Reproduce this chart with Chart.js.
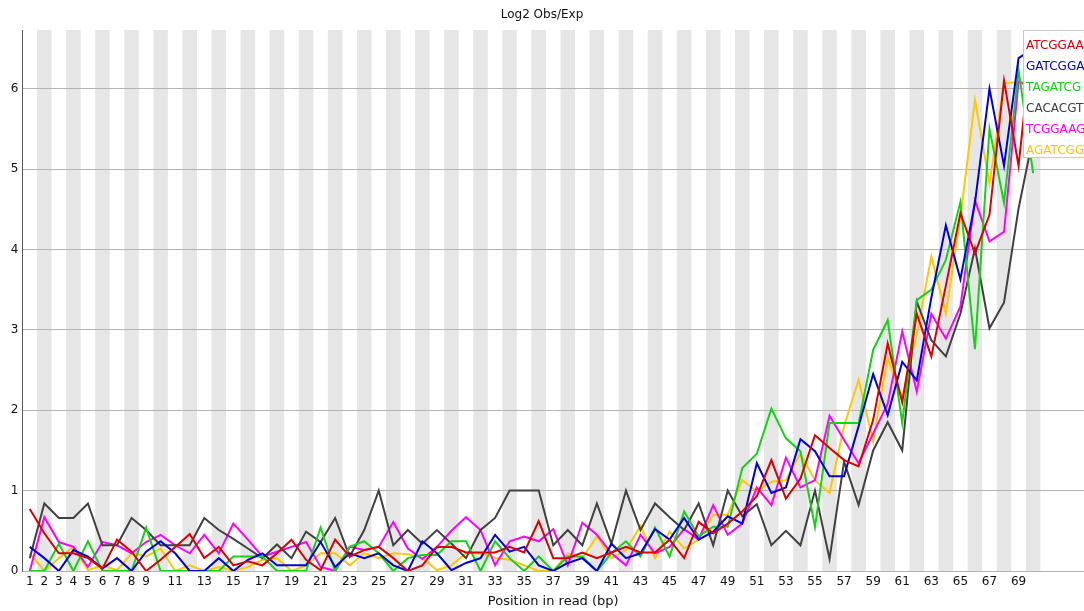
<!DOCTYPE html>
<html>
<head>
<meta charset="utf-8">
<title>Log2 Obs/Exp</title>
<script src="https://cdn.jsdelivr.net/npm/chart.js@4.4.1/dist/chart.umd.min.js"></script>
<style>
  html, body { margin: 0; padding: 0; background: #fff; }
  #wrap { width: 1084px; height: 611px; overflow: hidden; }
</style>
</head>
<body>
<div id="wrap"><canvas id="chart" width="1084" height="611"></canvas></div>
<script>
// Position in read (bp)
const positions = [
  1, 2, 3, 4, 5, 6, 7, 8, 9, 10, 11, 12, 13, 14, 15, 16, 17, 18, 19, 20,
  21, 22, 23, 24, 25, 26, 27, 28, 29, 30, 31, 32, 33, 34, 35, 36, 37, 38, 39, 40,
  41, 42, 43, 44, 45, 46, 47, 48, 49, 50, 51, 52, 53, 54, 55, 56, 57, 58, 59, 60,
  61, 62, 63, 64, 65, 66, 67, 68, 69, 70
];

const xTickLabels = [1, 2, 3, 4, 5, 6, 7, 8, 9, 11, 13, 15, 17, 19, 21, 23, 25, 27, 29, 31,
  33, 35, 37, 39, 41, 43, 45, 47, 49, 51, 53, 55, 57, 59, 61, 63, 65, 67, 69];
const yTickLabels = [0, 1, 2, 3, 4, 5, 6];

const kmerNames = ['ATCGGAA', 'GATCGGA', 'TAGATCG', 'CACACGT', 'TCGGAAG', 'AGATCGG'];

const atcggaa = [
  0.77, 0.47, 0.22, 0.22, 0.16, 0.03, 0.39, 0.24, 0, 0.14, 0.3, 0.46, 0.16, 0.3, 0.07, 0.12, 0.07, 0.22, 0.39, 0.14,
  0.01, 0.39, 0.18, 0.26, 0.3, 0.16, 0, 0.07, 0.3, 0.3, 0.23, 0.23, 0.23, 0.3, 0.23, 0.62, 0.16, 0.16, 0.23, 0.16,
  0.23, 0.3, 0.23, 0.23, 0.39, 0.16, 0.61, 0.47, 0.59, 0.74, 0.93, 1.38, 0.9, 1.15, 1.69, 1.53, 1.38, 1.3, 1.88, 2.83,
  2.1, 3.2, 2.67, 3.55, 4.45, 3.95, 4.43, 6.1, 5.04, 6.75
];
const gatcgga = [
  0.3, 0.16, 0, 0.26, 0.18, 0.03, 0.16, 0, 0.24, 0.37, 0.22, 0, 0, 0.16, 0, 0.14, 0.22, 0.07, 0.07, 0.07,
  0.36, 0.05, 0.22, 0.16, 0.22, 0.07, 0, 0.37, 0.22, 0.01, 0.1, 0.16, 0.45, 0.24, 0.3, 0.07, 0, 0.1, 0.16, 0,
  0.34, 0.16, 0.22, 0.52, 0.39, 0.66, 0.39, 0.49, 0.68, 0.59, 1.34, 0.97, 1.04, 1.64, 1.49, 1.18, 1.18, 1.8, 2.45, 1.94,
  2.6, 2.37, 3.4, 4.3, 3.63, 4.58, 6.0, 5.04, 6.38, 6.5
];
const tagatcg = [
  0, 0, 0.34, 0, 0.37, 0, 0, 0, 0.54, 0, 0, 0, 0, 0, 0.18, 0.18, 0.18, 0, 0, 0,
  0.54, 0, 0.3, 0.37, 0.22, 0, 0.16, 0.2, 0.2, 0.37, 0.37, 0, 0.37, 0.16, 0, 0.18, 0, 0.18, 0.18, 0,
  0.22, 0.37, 0.18, 0.54, 0.18, 0.74, 0.43, 0.55, 0.55, 1.28, 1.46, 2.02, 1.65, 1.49, 0.55, 1.84, 1.84, 1.84, 2.75, 3.12,
  1.84, 3.37, 3.5, 3.87, 4.59, 2.76, 5.5, 4.58, 6.23, 4.95
];
const cacacgt = [
  0.16, 0.84, 0.66, 0.66, 0.84, 0.32, 0.32, 0.66, 0.51, 0.32, 0.32, 0.32, 0.66, 0.51, 0.4, 0.28, 0.16, 0.33, 0.16, 0.49,
  0.36, 0.66, 0.18, 0.51, 1.0, 0.32, 0.51, 0.34, 0.51, 0.34, 0.16, 0.51, 0.66, 1.0, 1.0, 1.0, 0.32, 0.51, 0.32, 0.84,
  0.34, 1.0, 0.51, 0.84, 0.67, 0.51, 0.84, 0.32, 1.0, 0.68, 0.83, 0.32, 0.5, 0.32, 1.0, 0.15, 1.36, 0.82, 1.5, 1.85,
  1.5, 3.35, 2.87, 2.67, 3.2, 4.01, 3.02, 3.34, 4.51, 5.4
];
const tcggaag = [
  0, 0.67, 0.36, 0.3, 0.05, 0.36, 0.32, 0.22, 0.36, 0.45, 0.32, 0.22, 0.45, 0.22, 0.59, 0.39, 0.18, 0.24, 0.3, 0.36,
  0.05, 0, 0.3, 0.26, 0.3, 0.61, 0.28, 0.15, 0.3, 0.5, 0.67, 0.51, 0.07, 0.37, 0.43, 0.37, 0.52, 0.07, 0.6, 0.45,
  0.22, 0.07, 0.45, 0.22, 0.3, 0.52, 0.39, 0.82, 0.45, 0.59, 1.04, 0.82, 1.41, 1.04, 1.13, 1.93, 1.63, 1.34, 1.71, 2.08,
  2.98, 2.23, 3.2, 2.89, 3.29, 4.61, 4.1, 4.22, 6.09, 6.0
];
const agatcgg = [
  0.22, 0, 0.16, 0.3, 0.01, 0.07, 0.01, 0.22, 0.18, 0.28, 0, 0.07, 0, 0.05, 0, 0.05, 0.14, 0.16, 0, 0.07,
  0.22, 0.22, 0.07, 0.22, 0.16, 0.22, 0.21, 0.16, 0.01, 0.07, 0.22, 0.22, 0.16, 0.14, 0.07, 0, 0, 0.22, 0.16, 0.43,
  0.16, 0.26, 0.56, 0.16, 0.49, 0.28, 0.39, 0.7, 0.7, 1.13, 0.99, 1.11, 1.13, 1.46, 1.13, 0.97, 1.8, 2.38, 1.61, 2.65,
  2.15, 2.95, 3.91, 3.2, 4.4, 5.86, 4.82, 6.07, 6.08, 6.08
];

const kmerValues = [atcggaa, gatcgga, tagatcg, cacacgt, tcggaag, agatcgg];
const kmerColours = ['rgb(220,0,0)', 'rgb(0,0,220)', 'rgb(20,210,20)', 'rgb(64,64,64)', 'rgb(255,0,255)', 'rgb(255,200,0)'];

Chart.defaults.font.family = '"DejaVu Sans", sans-serif';
Chart.defaults.font.size = 12;
Chart.defaults.color = '#222';

// grey stripes behind every even position
const stripes = {
  id: 'stripes',
  beforeDraw(chart) {
    const { ctx, chartArea, scales } = chart;
    ctx.save();
    ctx.fillStyle = 'rgb(230,230,230)';
    positions.forEach((p) => {
      if (p % 2 !== 0) return;
      const x0 = scales.x.getPixelForValue(p - 0.5);
      const x1 = scales.x.getPixelForValue(p + 0.5);
      ctx.fillRect(x0, chartArea.top, x1 - x0, chartArea.bottom - chartArea.top);
    });
    ctx.restore();
  }
};

// legend box sitting in the top right corner of the plot
const kmerLegend = {
  id: 'kmerLegend',
  afterDraw(chart) {
    const { ctx, chartArea } = chart;
    const left = chartArea.right - 60.5;
    const top = chartArea.top + 0.5;
    ctx.save();
    ctx.fillStyle = '#fff';
    ctx.strokeStyle = 'rgb(200,200,200)';
    ctx.lineWidth = 1;
    ctx.fillRect(left, top, 100, 127);
    ctx.strokeRect(left, top, 100, 127);
    ctx.font = '12px "DejaVu Sans", sans-serif';
    ctx.textBaseline = 'middle';
    ctx.textAlign = 'left';
    kmerNames.forEach((name, i) => {
      ctx.fillStyle = kmerColours[i];
      ctx.fillText(name, left + 2.5, top + 15.5 + i * 21);
    });
    ctx.restore();
  }
};

const ctx = document.getElementById('chart').getContext('2d');
new Chart(ctx, {
  type: 'line',
  data: {
    datasets: kmerNames.map((name, i) => ({
      label: name,
      data: positions.map((p, j) => ({ x: p, y: kmerValues[i][j] })),
      borderColor: kmerColours[i],
      backgroundColor: kmerColours[i],
      borderWidth: 2,
      pointRadius: 0,
      tension: 0,
      fill: false
    }))
  },
  options: {
    responsive: false,
    animation: false,
    devicePixelRatio: 1,
    layout: { padding: { left: 0, right: 0, top: 0, bottom: 0 } },
    plugins: {
      legend: { display: false },
      tooltip: { enabled: false },
      title: {
        display: true,
        text: 'Log2 Obs/Exp',
        color: '#111',
        font: { size: 12, weight: 'normal' },
        padding: { top: 8, bottom: 7.6 }
      }
    },
    scales: {
      x: {
        type: 'linear',
        min: 0.5,
        max: 73.5,
        afterBuildTicks: (scale) => {
          scale.ticks = xTickLabels.map((v) => ({ value: v }));
        },
        afterFit: (scale) => {
          scale.height = 40;
          scale.paddingLeft = 0;
          scale.paddingRight = 0;
        },
        ticks: {
          autoSkip: false,
          maxRotation: 0,
          padding: 4,
          color: '#111',
          callback: (v) => String(v)
        },
        grid: { display: false, drawTicks: false },
        border: { display: true, color: 'rgb(180,180,180)', width: 1 },
        title: {
          display: true,
          text: 'Position in read (bp)',
          color: '#111',
          font: { size: 13 },
          padding: { top: 0, bottom: 2 }
        }
      },
      y: {
        min: 0,
        max: 6.73,
        afterBuildTicks: (scale) => {
          scale.ticks = yTickLabels.map((v) => ({ value: v }));
        },
        afterFit: (scale) => {
          scale.width = 22.5;
        },
        ticks: { padding: 4, color: '#111' },
        grid: { color: 'rgb(180,180,180)', lineWidth: 1, drawTicks: false },
        border: { display: true, color: 'rgb(90,90,90)', width: 1 }
      }
    }
  },
  plugins: [stripes, kmerLegend]
});
</script>
</body>
</html>
